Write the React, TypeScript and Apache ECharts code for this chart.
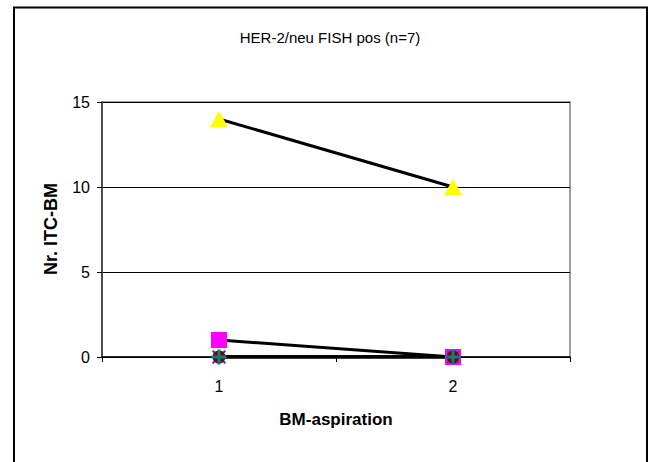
import React, { useEffect, useRef } from "react";
import * as echarts from "echarts";

// BM aspirations (x categories)
const aspirations = ["1", "2"];
// ITC-BM counts per patient, one list per patient
const patient1 = [0, 0];
const patient2 = [1, 0];
const patient3 = [14, 10];
const patient4 = [0, 0];
const patient5 = [0, 0];
const patient6 = [0, 0];
const patient7 = [0, 0];
const yTicks = { min: 0, max: 15, interval: 5 };

const FONT = "'Liberation Sans', Arial, sans-serif";

const PLUS = "path://M4,0H6V4H10V6H6V10H4V6H0V4H4Z";
const CROSS = "path://M1,0L5,4L9,0L10,1L6,5L10,9L9,10L5,6L1,10L0,9L4,5L0,1Z";
const STAR = "path://M1,0L5,4L9,0L10,1L6,5L10,9L9,10L5,6L1,10L0,9L4,5L0,1ZM4.4,0H5.6V10H4.4Z";

type Patient = { data: number[]; symbol: string; size: number | number[]; color: string };

const patients: Patient[] = [
  { data: patient1, symbol: "diamond", size: 14, color: "#000080" },
  { data: patient2, symbol: "rect", size: 16, color: "#FF00FF" },
  { data: patient3, symbol: "triangle", size: [18, 16], color: "#FFFF00" },
  { data: patient4, symbol: CROSS, size: 14, color: "#00C0FF" },
  { data: patient5, symbol: STAR, size: 14, color: "#6633CC" },
  { data: patient6, symbol: "circle", size: 13, color: "#800000" },
  { data: patient7, symbol: PLUS, size: 15, color: "#008080" },
];

export default function App() {
  const ref = useRef<HTMLDivElement>(null);

  useEffect(() => {
    if (!ref.current) return;
    const chart = echarts.init(ref.current, null, { renderer: "svg" });
    chart.setOption({
      animation: false,
      backgroundColor: "#ffffff",
      textStyle: { fontFamily: FONT },
      grid: {
        left: 102,
        top: 102,
        width: 468,
        height: 255,
        show: true,
        borderColor: "#808080",
        borderWidth: 1.5,
        backgroundColor: "transparent",
      },
      xAxis: {
        type: "category",
        data: aspirations,
        boundaryGap: true,
        axisLine: { lineStyle: { color: "#000", width: 1.5 } },
        axisTick: { show: true, length: 5, lineStyle: { color: "#000" } },
        axisLabel: { color: "#000", fontSize: 16, fontFamily: FONT, margin: 21 },
        splitLine: { show: false },
      },
      yAxis: {
        type: "value",
        min: yTicks.min,
        max: yTicks.max,
        interval: yTicks.interval,
        axisLine: { show: true, lineStyle: { color: "#333", width: 1.5 } },
        axisTick: { show: true, length: 5, lineStyle: { color: "#000" } },
        axisLabel: { color: "#000", fontSize: 16, fontFamily: FONT, margin: 12 },
        splitLine: { show: true, lineStyle: { color: "#000", width: 1 } },
      },
      series: patients.map((p, i) => ({
        name: "Patient " + (i + 1),
        type: "line",
        data: p.data,
        symbol: p.symbol,
        symbolSize: p.size,
        showSymbol: true,
        lineStyle: { color: "#000", width: 3 },
        itemStyle: { color: p.color, borderWidth: 0 },
        emphasis: { disabled: true },
      })),
      graphic: [
        {
          type: "rect",
          shape: { x: 14, y: 7.5, width: 633, height: 470 },
          style: { fill: "none", stroke: "#000", lineWidth: 2 },
          silent: true,
        },
        {
          type: "text",
          x: 330,
          y: 37,
          style: {
            text: "HER-2/neu FISH pos (n=7)",
            font: `15px ${FONT}`,
            fill: "#000",
            textAlign: "center",
            textVerticalAlign: "middle",
          },
        },
        {
          type: "text",
          x: 336,
          y: 419,
          style: {
            text: "BM-aspiration",
            font: `bold 17px ${FONT}`,
            fill: "#000",
            textAlign: "center",
            textVerticalAlign: "middle",
          },
        },
        {
          type: "text",
          x: 51,
          y: 229,
          rotation: Math.PI / 2,
          style: {
            text: "Nr. ITC-BM",
            font: `bold 18px ${FONT}`,
            fill: "#000",
            textAlign: "center",
            textVerticalAlign: "middle",
          },
        },
      ],
    });
    return () => chart.dispose();
  }, []);

  return (
    <div
      ref={ref}
      style={{ position: "fixed", left: 0, top: 0, width: 654, height: 462 }}
    />
  );
}
